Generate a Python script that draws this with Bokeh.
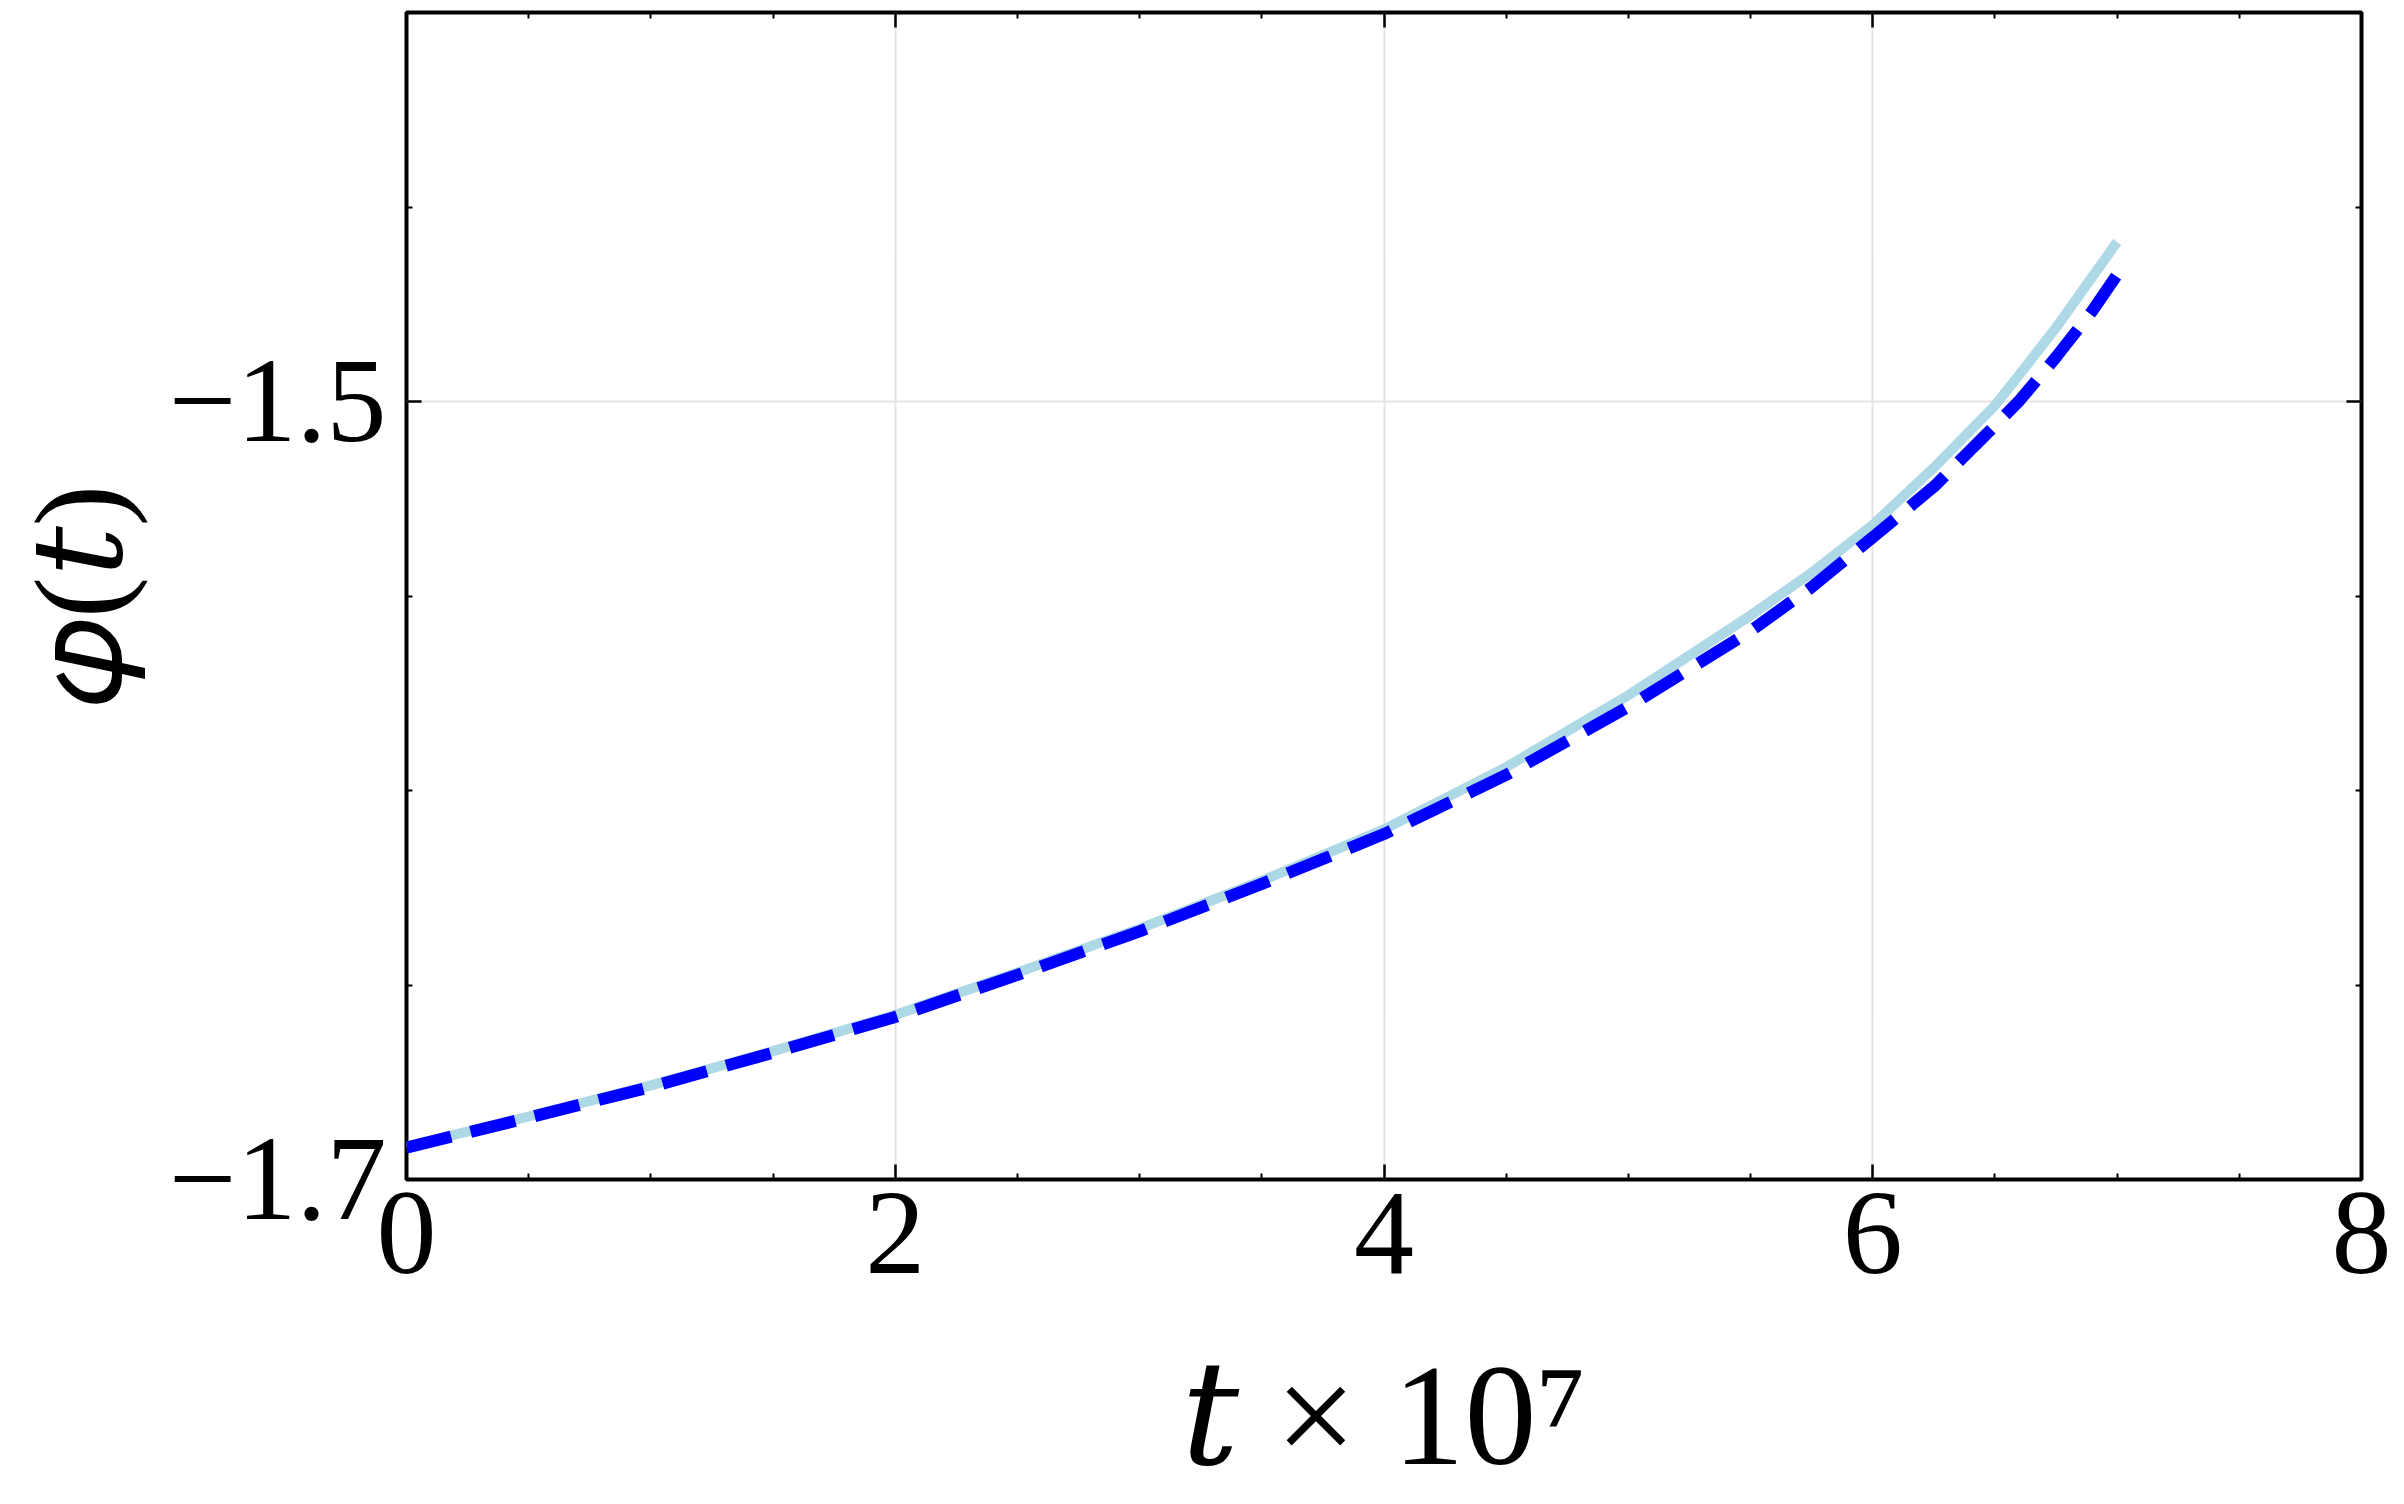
from bokeh.plotting import figure
from bokeh.models import Range1d, FixedTicker, LinearAxis, ColumnDataSource
from bokeh.embed import file_html
from bokeh.resources import INLINE

# ---------------- data ----------------
t_vals = [0, 0.5, 1, 1.5, 2, 2.5, 3, 3.5, 4, 4.5, 5, 5.5, 5.75, 6, 6.25,
          6.5, 6.6, 6.75, 6.9, 7]
phi_solid = [-1.6915, -1.6838, -1.6758, -1.6670, -1.6577, -1.6468, -1.6355,
             -1.6232, -1.6100, -1.5940, -1.5755, -1.5550, -1.5440, -1.5317,
             -1.5170, -1.5010, -1.4931, -1.4810, -1.4678, -1.4590]
phi_dashed = [-1.6918, -1.6841, -1.6762, -1.6674, -1.6582, -1.6474, -1.6362,
              -1.6240, -1.6112, -1.5960, -1.5785, -1.5590, -1.5477, -1.5349,
              -1.5219, -1.5062, -1.4998, -1.4886, -1.4766, -1.4674]

x_major = [0, 2, 4, 6, 8]
x_minor = [0.5, 1, 1.5, 2.5, 3, 3.5, 4.5, 5, 5.5, 6.5, 7, 7.5]
y_major = [-1.7, -1.5]
y_minor = [-1.65, -1.6, -1.55, -1.45, -1.4]
y_tick_text = ["−1.7", "−1.5"]
x_title = "𝑡 × 10⁷"
y_title = "𝜑(𝑡)"

# ---------------- layout ----------------
W, H = 2404, 1504
FL, FR, FT, FB = 406, 2361, 12, 1179          # frame edges in canvas pixels
FONT = "Liberation Serif, DejaVu Serif"

p = figure(width=W, height=H, x_range=Range1d(0, 8), y_range=Range1d(-1.7, -1.4),
           output_backend="svg", toolbar_location=None,
           min_border_left=FL, min_border_right=W - FR,
           min_border_top=FT, min_border_bottom=H - FB,
           background_fill_color="white", border_fill_color="white",
           outline_line_color="black", outline_line_width=4)


def style_axis(ax, ticker, labels):
    ax.ticker = ticker
    ax.axis_line_color = None
    ax.major_tick_in = 15
    ax.major_tick_out = 0
    ax.minor_tick_in = 6
    ax.minor_tick_out = 0
    ax.major_tick_line_color = "black"
    ax.major_tick_line_width = 2.5
    ax.minor_tick_line_color = "black"
    ax.minor_tick_line_width = 2
    if labels:
        ax.major_label_text_font = FONT
        ax.major_label_text_font_size = "120px"
        ax.major_label_text_color = "black"
        ax.axis_label_text_font = FONT
        ax.axis_label_text_font_style = "normal"
        ax.axis_label_text_color = "black"
    else:
        ax.major_label_overrides = {v: "" for v in ticker.ticks}
        ax.major_label_text_font_size = "1px"
        ax.major_label_standoff = 0


xa = p.xaxis[0]
style_axis(xa, FixedTicker(ticks=x_major, minor_ticks=x_minor), True)
xa.major_label_standoff = 14
xa.axis_label = x_title
xa.axis_label_text_font_size = "144px"
xa.axis_label_standoff = 60

ya = p.yaxis[0]
style_axis(ya, FixedTicker(ticks=y_major, minor_ticks=y_minor), True)
ya.major_label_standoff = 20
ya.major_label_overrides = dict(zip(y_major, y_tick_text))
ya.axis_label = y_title
ya.axis_label_text_font_size = "125px"
ya.axis_label_standoff = 18

top = LinearAxis()
style_axis(top, FixedTicker(ticks=x_major, minor_ticks=x_minor), False)
p.add_layout(top, "above")
right = LinearAxis()
style_axis(right, FixedTicker(ticks=y_major, minor_ticks=y_minor), False)
p.add_layout(right, "right")

p.xgrid.ticker = FixedTicker(ticks=x_major)
p.ygrid.ticker = FixedTicker(ticks=y_major)
for g in (p.xgrid[0], p.ygrid[0]):
    g.grid_line_color = "#e4e4e4"
    g.grid_line_width = 2

src = ColumnDataSource(dict(t=t_vals, a=phi_solid, b=phi_dashed))
p.line("t", "a", source=src, line_color="#add8e6", line_width=10)
p.line("t", "b", source=src, line_color="#0000ff", line_width=12, line_dash="46 20")

open("out.html", "w").write(file_html(p, INLINE))
